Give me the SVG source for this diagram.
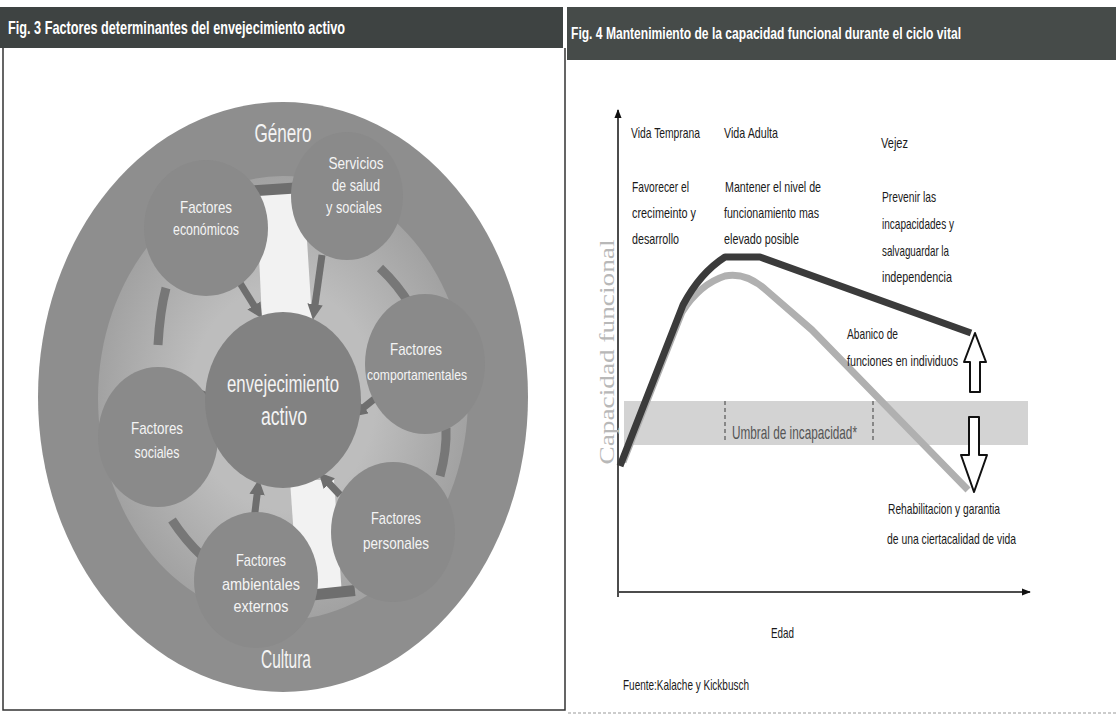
<svg xmlns="http://www.w3.org/2000/svg" width="1116" height="715" viewBox="0 0 1116 715">
<style>
.hdr{font-family:"Liberation Sans Narrow","Liberation Sans",sans-serif;font-weight:bold;fill:#fff}
.wt{font-family:"Liberation Sans Narrow","Liberation Sans",sans-serif;fill:#f4f4f4;text-anchor:middle}
.ct{font-family:"Liberation Sans Narrow","Liberation Sans",sans-serif;fill:#1a1a1a;font-size:15px}
.sat{fill:#8a8a8a}
.ring{stroke:#777;stroke-width:9;fill:none;stroke-linecap:butt}
.arw{stroke:#6e6e6e;stroke-width:7;fill:none}
</style>
<defs>
<marker id="ah" viewBox="0 0 10 10" refX="5" refY="5" markerWidth="2.2" markerHeight="2.2" orient="auto">
<path d="M0,0 L10,5 L0,10 Z" fill="#6e6e6e"/>
</marker>
<marker id="ax" viewBox="0 0 10 10" refX="9" refY="5" markerWidth="6" markerHeight="6" orient="auto">
<path d="M0,1 L10,5 L0,9 Z" fill="#111"/>
</marker>
<radialGradient id="lg" cx="0.5" cy="0.5" r="0.5">
<stop offset="0.5" stop-color="#bdbdbd"/>
<stop offset="1" stop-color="#a2a2a2"/>
</radialGradient>
</defs>
<rect width="1116" height="715" fill="#fff"/>
<!-- headers -->
<rect x="0" y="7" width="563" height="41" fill="#3e4342"/>
<rect x="567" y="7" width="549" height="53" fill="#464b49"/>
<text class="hdr" x="8" y="34" font-size="19" textLength="337" lengthAdjust="spacingAndGlyphs">Fig. 3  Factores determinantes del envejecimiento activo</text>
<text class="hdr" x="571" y="39" font-size="16" textLength="390" lengthAdjust="spacingAndGlyphs">Fig. 4 Mantenimiento de la capacidad funcional durante el ciclo vital</text>
<!-- frames -->
<path d="M3,48 V710 H565 V48" fill="none" stroke="#333" stroke-width="1.5"/>
<line x1="568" y1="713" x2="1116" y2="713" stroke="#999" stroke-width="1" stroke-dasharray="3,2"/>

<!-- Fig 3 -->
<g id="fig3-background">
<ellipse cx="283" cy="397" rx="245" ry="295" fill="#8e8e8e"/>
<ellipse cx="283" cy="398" rx="185" ry="222" fill="url(#lg)"/>
<path d="M256,192 L304,192 L312,320 L262,320 Z" fill="#f2f2f2"/>
<path d="M290,480 L334,480 L342,596 L298,596 Z" fill="#f2f2f2"/>
<rect x="243" y="184" width="60" height="11" fill="#6e6e6e" transform="rotate(-4 273 190)"/>
<rect x="300" y="588" width="55" height="11" fill="#6e6e6e" transform="rotate(-6 327 593)"/>
</g>
<g id="connectors">
<line class="arw" x1="240" y1="283" x2="258" y2="312" marker-end="url(#ah)"/>
<line class="arw" x1="322" y1="255" x2="314" y2="312" marker-end="url(#ah)"/>
<line class="arw" x1="378" y1="396" x2="358" y2="412" marker-end="url(#ah)"/>
<line class="arw" x1="340" y1="495" x2="324" y2="478" marker-end="url(#ah)"/>
<line class="arw" x1="254" y1="520" x2="258" y2="487" marker-end="url(#ah)"/>
<line class="arw" x1="218" y1="410" x2="205" y2="395" marker-end="url(#ah)"/>
<path class="ring" d="M380,268 Q398,285 410,305"/>
<path class="ring" d="M446,428 Q447,450 440,476"/>
<path class="ring" d="M166,288 Q160,310 158,345"/>
<path class="ring" d="M172,520 Q185,540 202,556"/>
</g>
<g id="node-economicos"><ellipse class="sat" cx="206" cy="228" rx="62" ry="68"/>
<text class="wt" font-size="17" x="206" y="213" textLength="52" lengthAdjust="spacingAndGlyphs">Factores</text>
<text class="wt" font-size="17" x="206" y="235" textLength="66" lengthAdjust="spacingAndGlyphs">económicos</text></g>
<g id="node-servicios"><ellipse class="sat" cx="347" cy="196" rx="56" ry="64"/>
<text class="wt" font-size="17" x="356" y="169" textLength="55" lengthAdjust="spacingAndGlyphs">Servicios</text>
<text class="wt" font-size="17" x="356" y="191" textLength="48" lengthAdjust="spacingAndGlyphs">de salud</text>
<text class="wt" font-size="17" x="354" y="213" textLength="56" lengthAdjust="spacingAndGlyphs">y sociales</text></g>
<g id="node-comportamentales"><ellipse class="sat" cx="425" cy="364" rx="60" ry="70"/>
<text class="wt" font-size="17" x="416" y="355" textLength="52" lengthAdjust="spacingAndGlyphs">Factores</text>
<text class="wt" font-size="15" x="417" y="380" textLength="100" lengthAdjust="spacingAndGlyphs">comportamentales</text></g>
<g id="node-personales"><ellipse class="sat" cx="393" cy="532" rx="62" ry="70"/>
<text class="wt" font-size="17" x="396" y="524" textLength="50" lengthAdjust="spacingAndGlyphs">Factores</text>
<text class="wt" font-size="17" x="396" y="549" textLength="66" lengthAdjust="spacingAndGlyphs">personales</text></g>
<g id="node-ambientales"><ellipse class="sat" cx="256" cy="580" rx="62" ry="68"/>
<text class="wt" font-size="17" x="261" y="566" textLength="50" lengthAdjust="spacingAndGlyphs">Factores</text>
<text class="wt" font-size="17" x="261" y="590" textLength="78" lengthAdjust="spacingAndGlyphs">ambientales</text>
<text class="wt" font-size="17" x="261" y="612" textLength="55" lengthAdjust="spacingAndGlyphs">externos</text></g>
<g id="node-sociales"><ellipse class="sat" cx="158" cy="437" rx="60" ry="70"/>
<text class="wt" font-size="17" x="157" y="434" textLength="52" lengthAdjust="spacingAndGlyphs">Factores</text>
<text class="wt" font-size="17" x="157" y="458" textLength="45" lengthAdjust="spacingAndGlyphs">sociales</text></g>
<g id="node-center"><ellipse cx="283" cy="400" rx="78" ry="88" fill="#828282"/>
<text class="wt" x="283" y="392" font-size="23" textLength="112" lengthAdjust="spacingAndGlyphs">envejecimiento</text>
<text class="wt" x="284" y="425" font-size="26" textLength="46" lengthAdjust="spacingAndGlyphs">activo</text></g>
<g id="label-genero"><text class="wt" font-size="25" x="283" y="142" textLength="57" lengthAdjust="spacingAndGlyphs">Género</text></g>
<g id="label-cultura"><text class="wt" font-size="25" x="286" y="668" textLength="50" lengthAdjust="spacingAndGlyphs">Cultura</text></g>

<!-- Fig 4 -->
<g id="band">
<rect x="624" y="401" width="404" height="44" fill="#d3d3d3"/>
<line x1="725" y1="401" x2="725" y2="443" stroke="#555" stroke-width="1.2" stroke-dasharray="4,3"/>
<line x1="873" y1="401" x2="873" y2="443" stroke="#555" stroke-width="1.2" stroke-dasharray="4,3"/>
<text x="732" y="439" font-family="Liberation Sans Narrow, Liberation Sans, sans-serif" font-size="19" fill="#555" textLength="125" lengthAdjust="spacingAndGlyphs">Umbral de incapacidad*</text>
</g>
<g id="axes">
<line x1="618" y1="597" x2="618" y2="110" stroke="#111" stroke-width="1.5" marker-end="url(#ax)"/>
<line x1="619" y1="592" x2="1030" y2="592" stroke="#111" stroke-width="1.5" marker-end="url(#ax)"/>
<text transform="translate(614,352) rotate(-90)" text-anchor="middle" font-family="Liberation Serif, serif" font-size="21" fill="#b8b8b8" textLength="225" lengthAdjust="spacingAndGlyphs">Capacidad funcional</text>
<text class="ct" x="771" y="638" textLength="23" lengthAdjust="spacingAndGlyphs">Edad</text>
<text class="ct" x="623" y="690" textLength="126" lengthAdjust="spacingAndGlyphs">Fuente:Kalache y Kickbusch</text>
</g>
<g id="curves">
<path d="M623,462 L682,312 Q700,284 725,276 Q746,272 766,290 L812,330 L968,490" fill="none" stroke="#b0b0b0" stroke-width="7" stroke-linejoin="round"/>
<path d="M620,466 L683,305 Q700,273 725,257 L760,257 L971,333" fill="none" stroke="#3b3b3b" stroke-width="7" stroke-linejoin="round"/>
</g>
<g id="arrows">
<polygon points="975,333 986,362 980,362 980,392 970,392 970,362 964,362" fill="#fff" stroke="#111" stroke-width="2" stroke-linejoin="round"/>
<polygon points="969,417 979,417 979,455 987,455 974,492 961,455 969,455" fill="#fff" stroke="#111" stroke-width="2" stroke-linejoin="round"/>
</g>
<g id="stage-labels">
<text class="ct" x="631" y="138" textLength="69" lengthAdjust="spacingAndGlyphs">Vida Temprana</text>
<text class="ct" x="724" y="138" textLength="54" lengthAdjust="spacingAndGlyphs">Vida Adulta</text>
<text class="ct" x="881" y="148" textLength="27" lengthAdjust="spacingAndGlyphs">Vejez</text>
<text class="ct" x="632" y="192" textLength="57" lengthAdjust="spacingAndGlyphs">Favorecer el</text>
<text class="ct" x="632" y="218" textLength="64" lengthAdjust="spacingAndGlyphs">crecimeinto y</text>
<text class="ct" x="632" y="244" textLength="47" lengthAdjust="spacingAndGlyphs">desarrollo</text>
<text class="ct" x="725" y="192" textLength="96" lengthAdjust="spacingAndGlyphs">Mantener el nivel de</text>
<text class="ct" x="724" y="218" textLength="95" lengthAdjust="spacingAndGlyphs">funcionamiento mas</text>
<text class="ct" x="724" y="244" textLength="75" lengthAdjust="spacingAndGlyphs">elevado posible</text>
<text class="ct" x="882" y="202" textLength="54" lengthAdjust="spacingAndGlyphs">Prevenir las</text>
<text class="ct" x="882" y="229" textLength="72" lengthAdjust="spacingAndGlyphs">incapacidades y</text>
<text class="ct" x="882" y="256" textLength="67" lengthAdjust="spacingAndGlyphs">salvaguardar la</text>
<text class="ct" x="882" y="282" textLength="70" lengthAdjust="spacingAndGlyphs">independencia</text>
<text class="ct" x="847" y="339" textLength="51" lengthAdjust="spacingAndGlyphs">Abanico de</text>
<text class="ct" x="847" y="366" textLength="111" lengthAdjust="spacingAndGlyphs">funciones en individuos</text>
<text class="ct" x="888" y="514" textLength="112" lengthAdjust="spacingAndGlyphs">Rehabilitacion y garantia</text>
<text class="ct" x="887" y="544" textLength="129" lengthAdjust="spacingAndGlyphs">de una ciertacalidad de vida</text>
</g>
</svg>
